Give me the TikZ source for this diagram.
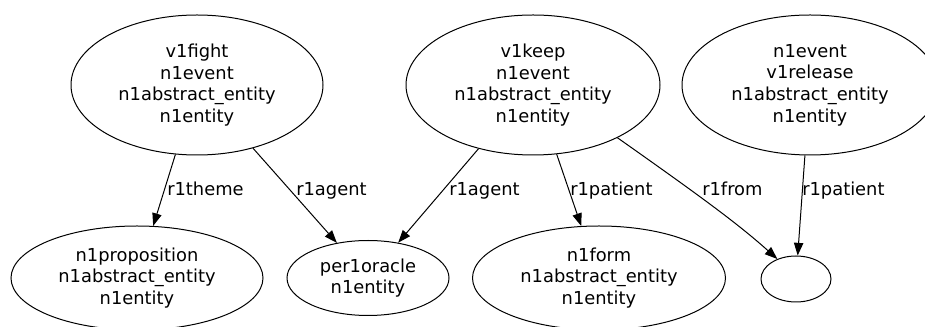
\documentclass[tikz,border=0pt]{standalone}
\usepackage{fontspec}
\setmainfont{DejaVu Sans}
\usetikzlibrary{shapes.geometric,arrows.meta}
\tikzset{
  ent/.style={ellipse, draw, line width=0.75pt, inner sep=0pt, align=center,
              font=\fontsize{13.4}{16.3}\selectfont},
  rel/.style={-{Triangle[length=9.5pt,width=7pt]}, line width=0.75pt},
  lbl/.style={anchor=base west, inner sep=0pt, font=\fontsize{13.4}{16.3}\selectfont}
}
\begin{document}
\begin{tikzpicture}[x=0.75pt,y=-0.75pt]
  \fill[white] (0,0) rectangle (925,327);
  \useasboundingbox (0,0) rectangle (925,327);
  \clip (0,0) rectangle (925,327);

  % event nodes (sizes in pt: 0.75 pt per unit)
  \node[ent, minimum width=189pt, minimum height=105pt] (fight) at (197,85)
    {v1fight\\n1event\\n1abstract\_entity\\n1entity};
  \node[ent, minimum width=190.5pt, minimum height=105pt] (keep) at (533,85)
    {v1keep\\n1event\\n1abstract\_entity\\n1entity};
  \node[ent, minimum width=192pt, minimum height=105pt] (release) at (810,85)
    {n1event\\v1release\\n1abstract\_entity\\n1entity};

  % participant nodes
  \node[ent, minimum width=189pt, minimum height=78pt] (prop) at (137,278)
    {n1proposition\\n1abstract\_entity\\n1entity};
  \node[ent, minimum width=121.5pt, minimum height=56.25pt] (oracle) at (368,278)
    {per1oracle\\n1entity};
  \node[ent, minimum width=189.75pt, minimum height=78pt] (form) at (599,278)
    {n1form\\n1abstract\_entity\\n1entity};
  \node[ent, minimum width=52.5pt, minimum height=34.5pt] (empty) at (796,279) {};

  % relations
  \draw[rel] (fight) -- (prop);
  \draw[rel] (fight) -- (oracle);
  \draw[rel] (keep) -- (oracle);
  \draw[rel] (keep) -- (form);
  \draw[rel] (keep.-32) .. controls (700,196) and (737,223) .. (empty.133);
  \draw[rel] (release) -- (empty);

  % relation labels
  \node[lbl] (l1) at (167,196) {r1theme};
  \node[lbl] (l2) at (296,196) {r1agent};
  \node[lbl] (l3) at (449,196) {r1agent};
  \node[lbl] (l4) at (570,196) {r1patient};
  \node[lbl] (l5) at (702,196) {r1from};
  \node[lbl] (l6) at (802,196) {r1patient};
\end{tikzpicture}
\end{document}
